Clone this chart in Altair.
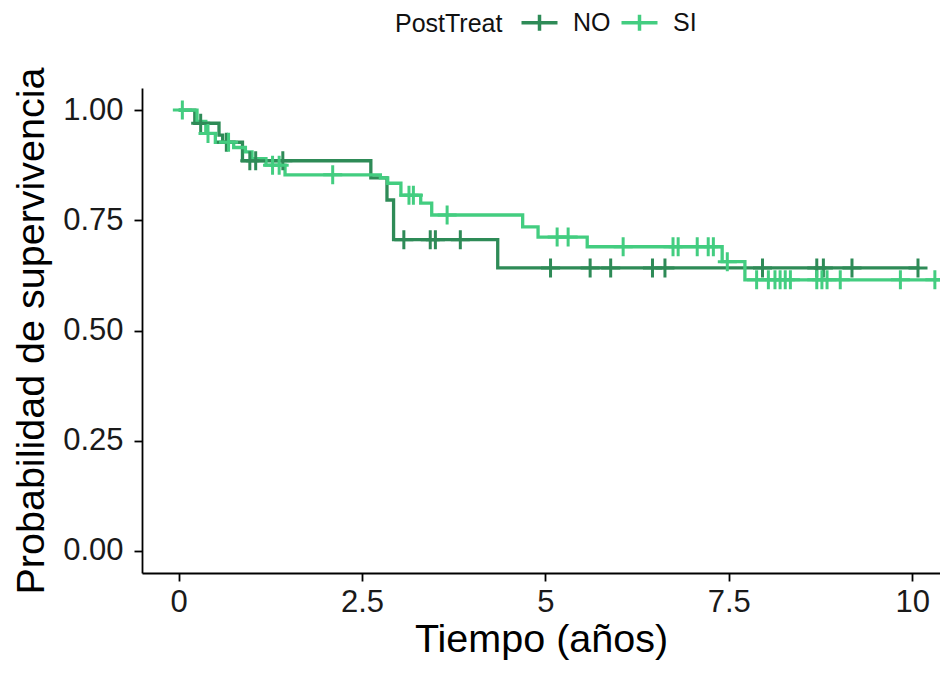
import altair as alt
import pandas as pd

groups = ["NO", "SI"]
colors = ["#2E8B57", "#43CD80"]

# Kaplan-Meier steps (time in years, survival probability)
no_time = [0.0, 0.22, 0.55, 0.60, 0.87, 2.62, 2.84, 2.93, 4.35, 10.10]
no_surv = [1.000, 0.970, 0.943, 0.927, 0.885, 0.846, 0.796, 0.706, 0.642, 0.642]
no_cens = [0.30, 0.65, 0.97, 1.05, 1.42, 3.07, 3.43, 3.50, 3.84, 5.07, 5.61,
           5.89, 6.46, 6.63, 7.96, 8.70, 8.79, 9.18, 10.08]

si_time = [0.0, 0.25, 0.37, 0.50, 0.75, 0.91, 1.00, 1.19, 1.45, 2.75, 2.85,
           3.03, 3.30, 3.45, 4.69, 4.90, 5.57, 7.41, 7.72, 10.45]
si_surv = [1.000, 0.974, 0.947, 0.927, 0.915, 0.905, 0.890, 0.875, 0.853, 0.846,
           0.834, 0.807, 0.789, 0.762, 0.735, 0.712, 0.690, 0.656, 0.615, 0.615]
si_cens = [0.05, 0.40, 0.68, 1.28, 1.37, 2.10, 3.14, 3.20, 3.66, 5.16, 5.31,
           6.06, 6.74, 6.81, 7.07, 7.22, 7.29, 7.48, 7.88, 8.04, 8.13, 8.20,
           8.27, 8.34, 8.70, 8.77, 8.84, 9.02, 9.84, 10.31, 10.42]

x_ticks = [0, 2.5, 5, 7.5, 10]
y_ticks = [0, 0.25, 0.5, 0.75, 1.0]


def step_value(times, survs, t):
    v = survs[0]
    for tt, ss in zip(times, survs):
        if tt <= t:
            v = ss
    return v


line_rows = []
cens_rows = []
for g, times, survs, cens in [("NO", no_time, no_surv, no_cens),
                              ("SI", si_time, si_surv, si_cens)]:
    for t, s in zip(times, survs):
        line_rows.append({"time": t, "surv": s, "group": g})
    for t in cens:
        cens_rows.append({"time": t, "surv": step_value(times, survs, t), "group": g})

lines_df = pd.DataFrame(line_rows)
cens_df = pd.DataFrame(cens_rows)

FONT = "Liberation Sans"
PLUS = "M-1,0H1M0,-1V1"
# legend key: a 36px line with a plus, drawn around a 20px symbol slot
LEG_SYMBOL = "M-1.8,0H1.8M0,-0.8V0.8"

color = alt.Color(
    "group:N",
    scale=alt.Scale(domain=groups, range=colors),
    legend=alt.Legend(
        title="PostTreat",
        orient="none",
        direction="horizontal",
        legendX=253,
        legendY=-78,
        titleOrient="left",
        titleFontSize=25,
        titleFont=FONT,
        titleFontWeight="normal",
        titleColor="#111111",
        titlePadding=24,
        labelFontSize=25,
        labelFont=FONT,
        labelColor="#111111",
        labelOffset=21,
        symbolType=LEG_SYMBOL,
        symbolSize=400,
        symbolStrokeWidth=3.5,
        symbolFillColor="transparent",
        columnPadding=3,
    ),
)

x = alt.X(
    "time:Q",
    scale=alt.Scale(domain=[-0.5, 10.38], nice=False, zero=False),
    axis=alt.Axis(values=x_ticks, format="~g", title="Tiempo (años)", titlePadding=3),
)
y = alt.Y(
    "surv:Q",
    scale=alt.Scale(domain=[-0.05, 1.05], nice=False, zero=False),
    axis=alt.Axis(values=y_ticks, format=".2f", title="Probabilidad de supervivencia",
                  titlePadding=11),
)

lines = alt.Chart(lines_df).mark_line(
    interpolate="step-after", strokeWidth=3.3, clip=True
).encode(x=x, y=y, color=color)

points = alt.Chart(cens_df).mark_point(
    shape=PLUS, filled=False, size=361, strokeWidth=3, opacity=1, clip=True
).encode(x="time:Q", y="surv:Q", color=alt.Color("group:N"))

chart = alt.layer(lines, points).properties(
    width=798,
    height=485,
    autosize=alt.AutoSizeParams(type="none"),
    padding={"left": 134, "top": 80, "right": 0, "bottom": 92},
).configure_view(stroke=None).configure_axis(
    grid=False,
    domainColor="#000000",
    domainWidth=1.8,
    tickColor="#000000",
    tickWidth=1.8,
    tickSize=8,
    labelFont=FONT,
    labelFontSize=31,
    labelColor="#1a1a1a",
    labelPadding=11,
    titleFont=FONT,
    titleFontSize=39.5,
    titleFontWeight="normal",
    titleColor="#000000",
).configure_axisX(labelPadding=6)

chart.save("out.html", embed_options={"renderer": "svg", "actions": False})
